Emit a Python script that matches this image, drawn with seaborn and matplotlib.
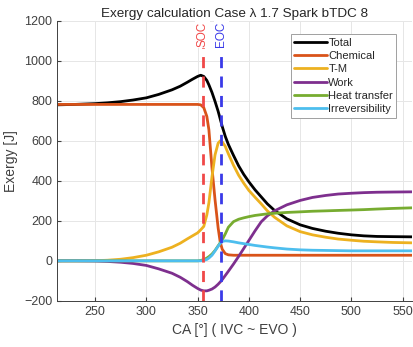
import numpy as np
import pandas as pd
import matplotlib
matplotlib.use('Agg')
import matplotlib.pyplot as plt
import seaborn as sns

# crank angle points
ca = [213, 230, 250, 262, 275, 287, 300, 312, 325, 333, 340, 345, 350,
      353, 356, 359, 361, 364, 367, 370, 372, 374, 377, 380,
      385, 390, 395, 400, 406, 412, 418, 425, 437, 450, 462, 475, 487, 500, 512, 525, 540, 559]

total = [780, 782, 786, 790, 796, 804, 815, 832, 855, 873, 893, 908, 922,
         928, 922, 902, 880, 842, 797, 748, 710, 672, 622, 582,
         527, 475, 432, 395, 355, 320, 285, 252, 210, 180, 162, 148, 138, 130, 125, 122, 121, 120]
chemical = [782, 782, 782, 782, 782, 782, 782, 782, 782, 782, 782, 782, 782,
            780, 766, 722, 655, 465, 305, 165, 95, 58, 36, 30,
            28, 28, 28, 28, 28, 28, 28, 28, 28, 28, 28, 28, 28, 28, 28, 28, 28, 28]
thermo_mech = [0, 0, 1, 3, 8, 16, 28, 45, 68, 88, 110, 125, 140,
               155, 172, 230, 290, 420, 530, 588, 600, 595, 572, 535,
               478, 428, 388, 352, 318, 285, 250, 218, 175, 146, 130, 118, 109, 103, 98, 95, 92, 90]
work = [0, 0, -1, -3, -7, -13, -23, -40, -62, -82, -104, -122, -138,
        -146, -150, -150, -147, -141, -131, -117, -106, -94, -73, -52,
        -16, 22, 62, 102, 150, 195, 225, 250, 280, 302, 317, 327, 334, 338, 341, 343, 344, 345]
heat = [0, 0, 0, 0, 0, 0, 0, 0, 0, 0, 0, 0, 0,
        2, 6, 14, 21, 34, 52, 75, 90, 105, 135, 168,
        196, 208, 215, 221, 227, 231, 235, 238, 242, 245, 248, 250, 252, 254, 256, 259, 262, 265]
irrev = [0, 0, 0, 0, 0, 0, 0, 0, 0, 0, 0, 0, 0,
         0, 2, 7, 14, 28, 50, 73, 87, 97, 100, 99,
         95, 90, 86, 82, 77, 73, 69, 65, 59, 55, 53, 52, 51, 50, 50, 50, 50, 50]

names = ['Total', 'Chemical', 'T-M', 'Work', 'Heat transfer', 'Irreversibility']
colors = ['#000000', '#D95319', '#EDB120', '#7E2F8E', '#77AC30', '#4DBEEE']
soc, eoc = 355, 373

df = pd.DataFrame({'CA': ca, 'Total': total, 'Chemical': chemical, 'T-M': thermo_mech,
                   'Work': work, 'Heat transfer': heat, 'Irreversibility': irrev})
long_df = df.melt(id_vars='CA', var_name='Component', value_name='Exergy')

sns.set_style('ticks')
plt.rcParams['font.family'] = ['Liberation Sans', 'DejaVu Sans']

fig = plt.figure(figsize=(4.14, 3.47), dpi=100)
ax = fig.add_axes([0.138, 0.133, 0.857, 0.807])

ax.grid(True, color='#e6e6e6', linewidth=0.7)
ax.set_axisbelow(True)

sns.lineplot(data=long_df, x='CA', y='Exergy', hue='Component', hue_order=names,
             palette=colors, linewidth=2, ax=ax, legend=True)

ax.axvline(soc, color='#f04848', linestyle=(0, (4, 3)), linewidth=2)
ax.axvline(eoc, color='#3a3ae8', linestyle=(0, (4, 3)), linewidth=2)
ax.text(soc, 1195, 'SOC', color='#f04848', rotation=90, ha='center', va='top', fontsize=8.5,
        bbox=dict(facecolor='white', edgecolor='none', pad=1))
ax.text(eoc, 1195, 'EOC', color='#3a3ae8', rotation=90, ha='center', va='top', fontsize=8.5,
        bbox=dict(facecolor='white', edgecolor='none', pad=1))

ax.set_xlim(213, 559)
ax.set_ylim(-200, 1200)
ax.set_xticks(range(250, 551, 50))
ax.set_yticks(range(-200, 1201, 200))
ax.tick_params(direction='in', length=3, labelsize=9, colors='#404040')
for s in ['top', 'right']:
    ax.spines[s].set_visible(False)
for s in ['left', 'bottom']:
    ax.spines[s].set_color('#404040')
    ax.spines[s].set_linewidth(0.7)

ax.set_xlabel('CA [°] ( IVC ~ EVO )', fontsize=10, color='#404040')
ax.set_ylabel('Exergy [J]', fontsize=10, color='#404040')
ax.set_title('Exergy calculation Case λ 1.7 Spark bTDC 8', fontsize=9.7, color='#262626', pad=3)

leg = ax.legend(loc='upper right', bbox_to_anchor=(0.972, 0.972), fontsize=8,
                handlelength=3.0, handletextpad=0.1, labelspacing=0.3,
                borderpad=0.3, fancybox=False, framealpha=1, title=None)
leg.get_frame().set_edgecolor('#a0a0a0')
leg.get_frame().set_linewidth(0.7)
for line in leg.get_lines():
    line.set_linewidth(2)

fig.savefig('out.png', dpi=100)
